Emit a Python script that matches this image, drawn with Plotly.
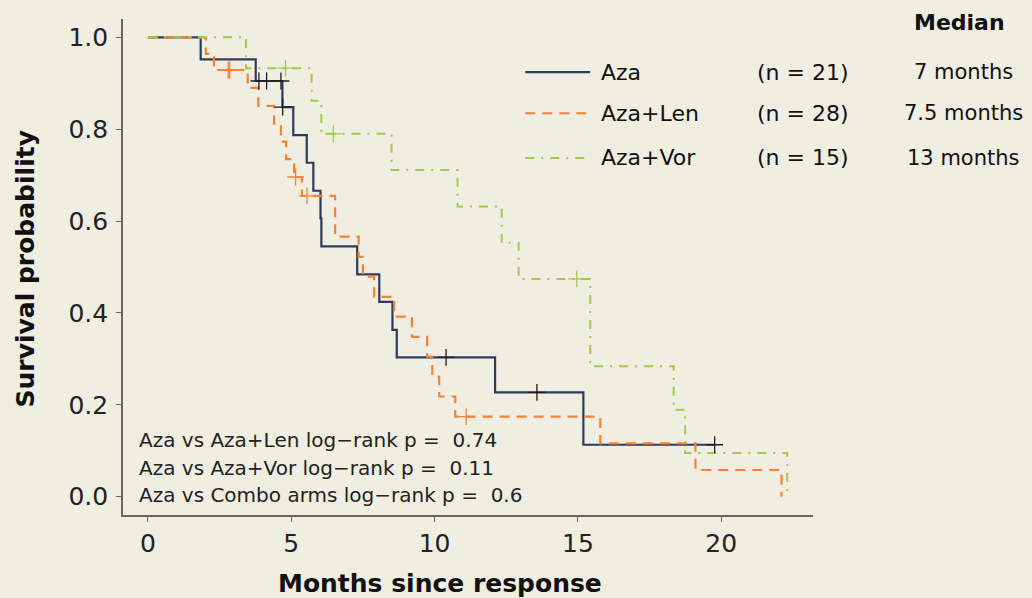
import plotly.graph_objects as go

# ---------------- data ----------------
aza_time = [0, 1.84, 3.76, 4.69, 5.07, 5.54, 5.77, 6.02, 6.05, 7.30, 8.07, 8.53, 8.68, 12.11, 15.19, 19.77]
aza_surv = [1.0, 0.952, 0.905, 0.848, 0.787, 0.727, 0.666, 0.606, 0.545, 0.484, 0.424, 0.363, 0.303, 0.227, 0.113, 0.113]
aza_cens_time = [3.87, 4.14, 4.64, 4.70, 10.40, 13.57, 19.77]
aza_cens_surv = [0.905, 0.905, 0.905, 0.848, 0.303, 0.227, 0.113]

len_time = [0, 2.02, 2.30, 3.48, 3.85, 4.40, 4.64, 4.82, 5.10, 5.37, 6.53, 7.35, 7.50, 7.89, 8.59, 9.21, 9.74, 9.92, 10.16, 10.72, 15.78, 19.10, 22.10]
len_surv = [1.0, 0.964, 0.929, 0.890, 0.851, 0.812, 0.773, 0.735, 0.696, 0.655, 0.566, 0.522, 0.479, 0.435, 0.392, 0.348, 0.305, 0.261, 0.218, 0.174, 0.116, 0.058, 0.0]
len_cens_time = [2.80, 2.85, 5.15, 5.55, 11.10]
len_cens_surv = [0.929, 0.929, 0.696, 0.655, 0.174]

vor_time = [0, 3.42, 5.71, 6.05, 8.50, 10.80, 12.34, 12.93, 15.43, 18.34, 18.74, 22.30]
vor_surv = [1.0, 0.933, 0.862, 0.790, 0.711, 0.632, 0.553, 0.474, 0.284, 0.189, 0.095, 0.0]
vor_cens_time = [4.80, 6.47, 14.96]
vor_cens_surv = [0.933, 0.790, 0.474]

group_names = ["Aza", "Aza+Len", "Aza+Vor"]
group_n = ["(n = 21)", "(n = 28)", "(n = 15)"]
group_median = ["7 months", "7.5 months", "13 months"]
pvalue_lines = [
    "Aza vs Aza+Len log\u2212rank p =  0.74",
    "Aza vs Aza+Vor log\u2212rank p =  0.11",
    "Aza vs Combo arms log\u2212rank p =  0.6",
]
x_ticks = [0, 5, 10, 15, 20]
y_ticks = [0.0, 0.2, 0.4, 0.6, 0.8, 1.0]

# ---------------- styles ----------------
FONT = "DejaVu Sans"
BG = "#F0EDE1"
C_AZA = "#2D3B5C"
C_LEN = "#F2843A"
C_VOR = "#9BCC50"
DASH_LEN = "10px,7px"
DASH_VOR = "9px,7px,2px,7px"

fig = go.Figure()

series = [
    (aza_time, aza_surv, aza_cens_time, aza_cens_surv, C_AZA, "solid", "#1E1E1E", 2.2),
    (len_time, len_surv, len_cens_time, len_cens_surv, C_LEN, DASH_LEN, C_LEN, 2.2),
    (vor_time, vor_surv, vor_cens_time, vor_cens_surv, C_VOR, DASH_VOR, C_VOR, 2.0),
]
for (t, s, ct, cs, col, dash, mcol, w) in series:
    fig.add_trace(go.Scatter(x=t, y=s, mode="lines", line=dict(color=col, width=w, dash=dash, shape="hv"),
                             showlegend=False, hoverinfo="skip"))
for (t, s, ct, cs, col, dash, mcol, w) in series:
    fig.add_trace(go.Scatter(x=ct, y=cs, mode="markers",
                             marker=dict(symbol="cross-thin", size=12, color=mcol, line=dict(color=mcol, width=1.3)),
                             showlegend=False, hoverinfo="skip"))

# ---------------- legend block (right/top) ----------------
row_y = [0.893, 0.810, 0.720]
styles = [(C_AZA, "solid", 2.2), (C_LEN, DASH_LEN, 2.2), (C_VOR, DASH_VOR, 2.0)]
for i in range(3):
    col, dash, w = styles[i]
    fig.add_shape(type="line", xref="paper", yref="paper", x0=0.583, x1=0.677, y0=row_y[i], y1=row_y[i],
                  line=dict(color=col, width=w, dash=dash))
    fig.add_annotation(xref="paper", yref="paper", x=0.690, y=row_y[i], text=group_names[i], showarrow=False,
                       xanchor="left", yanchor="middle", font=dict(family=FONT, size=22, color="#111"))
    fig.add_annotation(xref="paper", yref="paper", x=0.916, y=row_y[i], text=group_n[i], showarrow=False,
                       xanchor="left", yanchor="middle", font=dict(family=FONT, size=22, color="#111"))
    fig.add_annotation(xref="paper", yref="paper", x=1.218, y=row_y[i], text=group_median[i], showarrow=False,
                       xanchor="center", yanchor="middle", font=dict(family=FONT, size=21, color="#111"))
fig.add_annotation(xref="paper", yref="paper", x=1.213, y=0.992, text="<b>Median</b>", showarrow=False,
                   xanchor="center", yanchor="middle", font=dict(family=FONT, size=22, color="#111"))

# ---------------- p-values ----------------
p_y = [0.151, 0.095, 0.040]
for i, txt in enumerate(pvalue_lines):
    fig.add_annotation(xref="paper", yref="paper", x=0.020, y=p_y[i], text=txt, showarrow=False,
                       xanchor="left", yanchor="middle", font=dict(family=FONT, size=20, color="#222"))

# ---------------- axis titles ----------------
fig.add_annotation(xref="paper", yref="paper", x=0.459, y=-0.138, text="<b>Months since response</b>",
                   showarrow=False, xanchor="center", yanchor="middle", font=dict(family=FONT, size=25, color="#111"))
fig.add_annotation(xref="paper", yref="paper", x=-0.142, y=0.495, text="<b>Survival probability</b>",
                   showarrow=False, textangle=-90, xanchor="center", yanchor="middle",
                   font=dict(family=FONT, size=25, color="#111"))

fig.update_layout(
    width=1032, height=598,
    margin=dict(l=123, r=219, t=19, b=83),
    paper_bgcolor=BG, plot_bgcolor=BG,
    font=dict(family=FONT, color="#222"),
    showlegend=False,
)
fig.update_xaxes(range=[-0.87, 23.2], tickvals=x_ticks, ticks="outside", ticklen=5, tickwidth=1.3,
                 tickcolor="#666", showline=True, linecolor="#666", linewidth=1.6, showgrid=False,
                 zeroline=False, tickfont=dict(family=FONT, size=25, color="#222"))
fig.update_yaxes(range=[-0.04, 1.04], tickvals=y_ticks, ticktext=[f"{v:.1f}" for v in y_ticks],
                 ticks="outside", ticklen=5, tickwidth=1.3, ticklabelstandoff=3,
                 tickcolor="#666", showline=True, linecolor="#666", linewidth=1.6, showgrid=False,
                 zeroline=False, tickfont=dict(family=FONT, size=25, color="#222"))

fig.write_html("out.html", config={"displayModeBar": False},
               post_script="document.body.style.margin='0';document.body.style.overflow='hidden';")
